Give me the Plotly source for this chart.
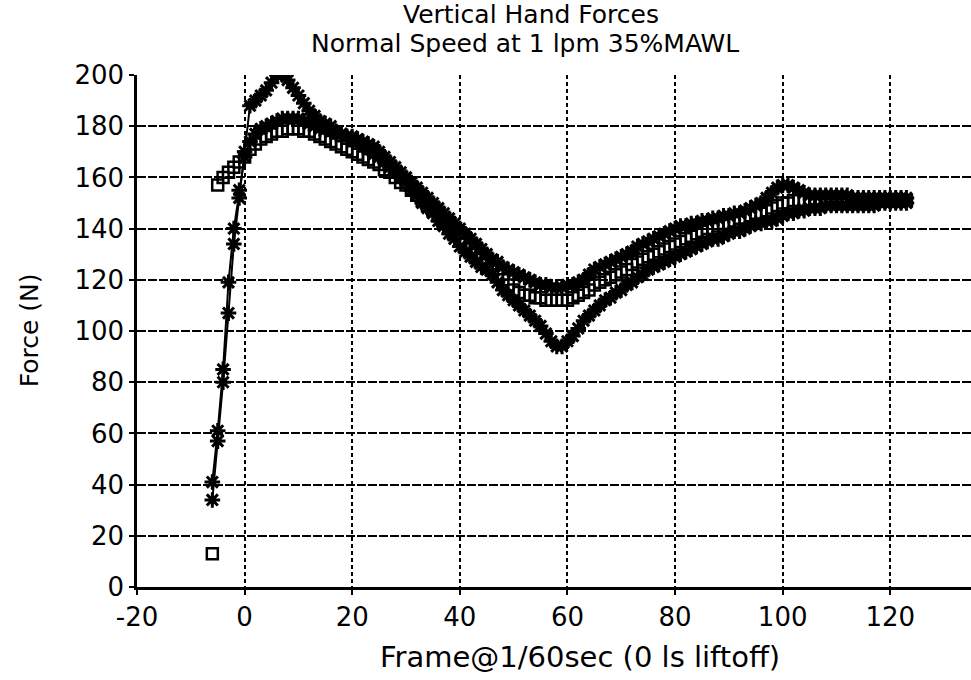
import plotly.graph_objects as go

# Frame numbers (1/60 s, 0 = liftoff)
frames_s1 = list(range(-6, 124))
force_s1 = [34, 57, 80, 107, 134, 152, 170, 188, 190, 192, 194, 197, 200, 200, 198, 195,
            192, 189, 186, 184, 182, 181, 180, 178, 177, 176, 175, 174, 172, 171,
            169, 168, 166, 164, 162, 160, 158, 155, 153, 150, 148, 146, 143, 141, 138,
            136, 133, 131, 129, 127, 125, 124, 122, 119, 116, 114, 112, 110, 108, 106,
            104, 102, 99, 96, 94, 94, 96, 98, 101, 104, 106, 108, 110, 112, 113,
            115, 116, 118, 119, 121, 122, 124, 125, 126, 127, 128, 129, 130, 131, 132,
            133, 134, 135, 136, 136, 137, 138, 139, 139, 140, 141, 142, 142, 143, 143,
            144, 145, 146, 146, 147, 147, 148, 148, 148, 149, 149, 149, 149, 149, 149,
            149, 149, 149, 149, 150, 150, 150, 150, 150, 150]

frames_s2 = list(range(-6, 124))
force_s2 = [41, 61, 85, 119, 140, 155, 168, 174, 177, 179, 180, 181, 182, 183, 183, 183,
            183, 182, 181, 180, 179, 179, 178, 177, 177, 176, 176, 175, 174, 173,
            172, 170, 168, 166, 164, 162, 160, 158, 156, 154, 152, 150, 148, 146, 144,
            142, 140, 138, 136, 134, 132, 130, 128, 127, 125, 124, 123, 122, 121, 120,
            119, 118, 118, 117, 117, 117, 118, 118, 119, 120, 122, 124, 125, 126, 127,
            128, 129, 130, 131, 133, 134, 135, 136, 137, 138, 139, 140, 141, 141, 142,
            142, 143, 143, 144, 144, 145, 145, 146, 146, 147, 148, 149, 150, 152, 154,
            156, 157, 157, 156, 155, 154, 153, 153, 153, 153, 153, 153, 153, 153, 152,
            152, 152, 152, 152, 152, 152, 152, 152, 152, 152]

frames_s3 = list(range(-6, 124))
force_s3 = [13, 157, 160, 162, 164, 166, 168, 171, 173, 175, 176, 177, 178, 178, 179, 179,
            179, 178, 178, 177, 176, 175, 174, 173, 172, 171, 170, 169, 168, 167,
            166, 165, 163, 162, 160, 158, 157, 155, 153, 151, 149, 147, 145, 142, 140,
            138, 136, 134, 132, 130, 128, 126, 124, 122, 120, 118, 116, 115, 114, 114,
            113, 113, 112, 112, 112, 112, 112, 113, 114, 115, 116, 118, 119, 120, 121,
            122, 123, 124, 126, 127, 128, 129, 130, 131, 132, 133, 134, 135, 136, 137,
            138, 139, 140, 140, 141, 142, 142, 143, 144, 144, 145, 146, 146, 147, 148,
            149, 150, 150, 151, 151, 151, 151, 151, 151, 151, 151, 151, 151, 151, 151,
            151, 151, 151, 151, 151, 151, 151, 151, 151, 151]

x_ticks = [-20, 0, 20, 40, 60, 80, 100, 120]
x_tick_labels = ["-20", "0", "20", "40", "60", "80", "100", "120"]
y_ticks = [0, 20, 40, 60, 80, 100, 120, 140, 160, 180, 200]

FONT = "DejaVu Sans, sans-serif"

fig = go.Figure()
fig.add_trace(go.Scatter(x=frames_s3, y=force_s3, mode="markers",
                         marker=dict(symbol="square-open", size=11, color="black",
                                     line=dict(width=2.5, color="black"))))
fig.add_trace(go.Scatter(x=frames_s2, y=force_s2, mode="lines+markers",
                         line=dict(color="black", width=2),
                         marker=dict(symbol="asterisk-open", size=13, color="black",
                                     line=dict(width=3, color="black"))))
fig.add_trace(go.Scatter(x=frames_s1, y=force_s1, mode="lines+markers",
                         line=dict(color="black", width=2),
                         marker=dict(symbol="asterisk-open", size=13, color="black",
                                     line=dict(width=3, color="black"))))

axis_common = dict(showgrid=True, gridcolor="black", gridwidth=2,
                   showline=True, linecolor="black", linewidth=2.5,
                   ticks="outside", ticklen=5, tickcolor="black", tickwidth=2,
                   tickfont=dict(family=FONT, size=26, color="black"),
                   zeroline=False)

fig.update_xaxes(range=[-20, 135], tickvals=x_ticks, ticktext=x_tick_labels,
                 griddash="4px,3px", **axis_common)
fig.update_yaxes(range=[0, 200], tickvals=y_ticks, griddash="9px,2px", **axis_common)

ann = [
    dict(text="Vertical Hand Forces", x=0.472, y=1.119, size=25),
    dict(text="Normal Speed at 1 lpm 35%MAWL", x=0.465, y=1.061, size=25),
    dict(text="Frame@1/60sec (0 ls liftoff)", x=0.531, y=-0.137, size=29),
]
for a in ann:
    fig.add_annotation(text=a["text"], x=a["x"], y=a["y"], xref="paper", yref="paper",
                       showarrow=False, xanchor="center", yanchor="middle",
                       font=dict(family=FONT, size=a["size"], color="black"))
fig.add_annotation(text="Force (N)", x=-0.128, y=0.502, xref="paper", yref="paper",
                   showarrow=False, textangle=-90, xanchor="center", yanchor="middle",
                   font=dict(family=FONT, size=25, color="black"))

fig.update_layout(width=971, height=680, showlegend=False,
                  margin=dict(l=137, r=0, t=75, b=93),
                  plot_bgcolor="white", paper_bgcolor="white")

fig.write_html("out.html")
